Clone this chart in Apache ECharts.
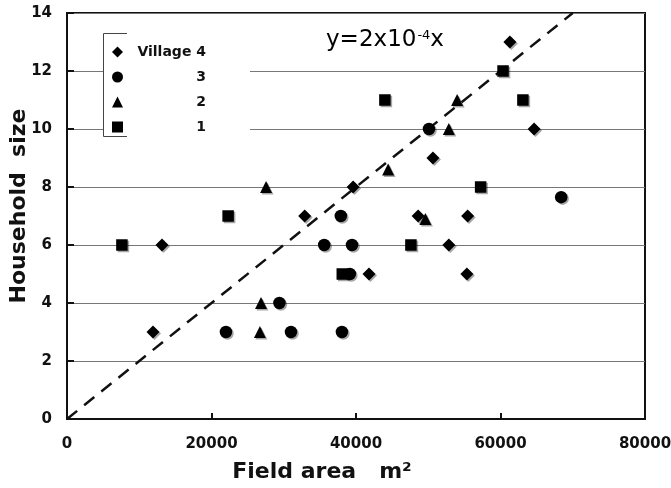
<!DOCTYPE html>
<html><head><meta charset="utf-8">
<script src="https://cdn.jsdelivr.net/npm/echarts@6/dist/echarts.min.js"></script>
<style>html,body{margin:0;padding:0;background:#fff}#c{width:671px;height:488px}</style>
</head><body><div id="c"></div>
<script>
// Village 4 (diamonds)
const v4x = [11900, 13150, 32900, 39600, 41800, 48600, 50650, 52850, 55450, 55350, 61300, 64650];
const v4y = [3, 6, 7, 8, 5, 7, 9, 6, 7, 5, 13, 10];
// Village 3 (circles)
const v3x = [22000, 29400, 31000, 35600, 37900, 38050, 39150, 39450, 50100, 68400];
const v3y = [3, 4, 3, 6, 7, 3, 5, 6, 10, 7.65];
// Village 2 (triangles)
const v2x = [26700, 26850, 27550, 44450, 49600, 52850, 54000];
const v2y = [3, 4, 8, 8.6, 6.9, 10, 11];
// Village 1 (squares)
const v1x = [7600, 22300, 38100, 44000, 47600, 57250, 60350, 63100];
const v1y = [6, 7, 5, 11, 6, 8, 12, 11];
// fitted line y = 2x10^-4 x
const fitX = [0, 70000];
const fitY = [0, 14];
const seriesNames = ['Village 4', '3', '2', '1'];
const xTickLabels = ['0', '20000', '40000', '60000', '80000'];
const yTickLabels = ['0', '2', '4', '6', '8', '10', '12', '14'];

const FONT = 'DejaVu Sans';
const zip = (xs, ys) => xs.map((x, i) => [x, ys[i]]);
const mk = (name, sym, size, xs, ys) => ({
  name, type: 'scatter', symbol: sym, symbolSize: size,
  data: zip(xs, ys), z: 3,
  itemStyle: { color: '#000', opacity: 1, shadowColor: 'rgba(0,0,0,0.35)', shadowOffsetX: 1.5, shadowOffsetY: 1.5, shadowBlur: 0 },
  emphasis: { disabled: true }
});

const chart = echarts.init(document.getElementById('c'));
chart.setOption({
  animation: false,
  backgroundColor: '#fff',
  grid: { left: 67, top: 13, right: 26, bottom: 69, outerBoundsMode: 'none', containLabel: false,
    show: true, borderColor: '#111', borderWidth: 2, backgroundColor: 'transparent' },
  xAxis: {
    type: 'value', min: 0, max: 80000, interval: 20000,
    name: 'Field area   m²', nameLocation: 'middle', nameGap: 42, nameMoveOverlap: false,
    nameTextStyle: { fontFamily: FONT, fontWeight: 'bold', fontSize: 22, color: '#111', padding: [0, 68, 0, 0] },
    axisLine: { lineStyle: { color: '#111', width: 2 } },
    axisTick: { inside: true, length: 6, lineStyle: { color: '#111', width: 2 } },
    splitLine: { show: false },
    axisLabel: { margin: 18, fontFamily: FONT, fontWeight: 'bold', fontSize: 15, color: '#111',
      formatter: v => xTickLabels[Math.round(v / 20000)] }
  },
  yAxis: {
    type: 'value', min: 0, max: 14, interval: 2,
    name: 'Household  size', nameLocation: 'middle', nameGap: 37, nameRotate: 90, nameMoveOverlap: false,
    nameTextStyle: { fontFamily: FONT, fontWeight: 'bold', fontSize: 22, color: '#111', padding: [0, 0, 0, 20] },
    axisLine: { lineStyle: { color: '#111', width: 2 } },
    axisTick: { inside: true, length: 7, lineStyle: { color: '#111', width: 2 } },
    splitLine: { show: true, lineStyle: { color: '#777', width: 1 } },
    axisLabel: { margin: 15, fontFamily: FONT, fontWeight: 'bold', fontSize: 15, color: '#111',
      formatter: v => yTickLabels[Math.round(v / 2)] }
  },
  legend: {
    orient: 'vertical', left: 107, top: 40, itemWidth: 11, itemHeight: 11, itemGap: 11,
    data: seriesNames, selectedMode: false,
    formatter: '{n|{name}}',
    textStyle: { fontFamily: FONT, fontWeight: 'bold', fontSize: 14, color: '#111',
      rich: { n: { width: 78, align: 'right', fontFamily: FONT, fontWeight: 'bold', fontSize: 14, lineHeight: 14, color: '#111' } } }
  },
  graphic: [
    { type: 'rect', z: 1, shape: { x: 104, y: 34, width: 146, height: 102 }, style: { fill: '#fff' } },
    { type: 'polyline', z: 1, shape: { points: [[127, 33.5], [103.5, 33.5], [103.5, 136.5], [127, 136.5]] }, style: { stroke: '#444', lineWidth: 1, fill: null } },
    { type: 'text', z: 5, x: 326, y: 29,
      style: { text: '{m|y=2x10}{s|-4}{m|x}', fontFamily: FONT,
        rich: { m: { fontFamily: FONT, fontSize: 23, color: '#111' }, s: { fontFamily: FONT, fontSize: 13, color: '#111', verticalAlign: 'top', padding: [0, 0, 8, 1] } } } }
  ],
  series: [
    mk(seriesNames[0], 'diamond', 13, v4x, v4y),
    mk(seriesNames[1], 'circle', 12.5, v3x, v3y),
    mk(seriesNames[2], 'triangle', 12, v2x, v2y),
    mk(seriesNames[3], 'rect', 11.5, v1x, v1y),
    { name: 'fit', type: 'line', data: zip(fitX, fitY), symbol: 'none', z: 2,
      lineStyle: { color: '#111', width: 2.5, type: [13, 9] }, emphasis: { disabled: true } }
  ]
});
</script></body></html>
